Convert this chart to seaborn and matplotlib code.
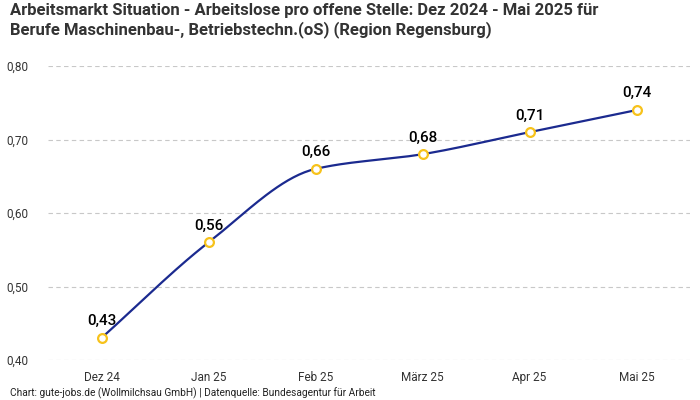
import numpy as np
import pandas as pd
import matplotlib
matplotlib.use("Agg")
import matplotlib.pyplot as plt
import seaborn as sns

# data
months = ["Dez 24", "Jan 25", "Feb 25", "März 25", "Apr 25", "Mai 25"]
values = [0.43, 0.56, 0.66, 0.68, 0.71, 0.74]
y_ticks = [0.40, 0.50, 0.60, 0.70, 0.80]

title = ("Arbeitsmarkt Situation - Arbeitslose pro offene Stelle: Dez 2024 - Mai 2025 für\n"
         "Berufe Maschinenbau-, Betriebstechn.(oS) (Region Regensburg)")
footer = "Chart: gute-jobs.de (Wollmilchsau GmbH) | Datenquelle: Bundesagentur für Arbeit"

sns.set_style("white")
plt.rcParams["font.family"] = ["Roboto", "DejaVu Sans"]


def monotone_curve(x, y, n=40):
    # monotone cubic (Fritsch-Carlson) for the smooth line
    x = np.asarray(x, float)
    y = np.asarray(y, float)
    h = np.diff(x)
    d = np.diff(y) / h
    m = np.zeros_like(y)
    m[0], m[-1] = d[0], d[-1]
    for i in range(1, len(y) - 1):
        if d[i - 1] * d[i] <= 0:
            m[i] = 0
        else:
            w1 = 2 * h[i] + h[i - 1]
            w2 = h[i] + 2 * h[i - 1]
            m[i] = (w1 + w2) / (w1 / d[i - 1] + w2 / d[i])
    xs, ys = [], []
    for i in range(len(x) - 1):
        t = np.linspace(0, 1, n)
        h00 = 2 * t**3 - 3 * t**2 + 1
        h10 = t**3 - 2 * t**2 + t
        h01 = -2 * t**3 + 3 * t**2
        h11 = t**3 - t**2
        xs.append(x[i] + t * h[i])
        ys.append(h00 * y[i] + h10 * h[i] * m[i] + h01 * y[i + 1] + h11 * h[i] * m[i + 1])
    return np.concatenate(xs), np.concatenate(ys)


df = pd.DataFrame({"idx": range(len(months)), "month": months, "value": values})
cx, cy = monotone_curve(df["idx"], df["value"])

fig = plt.figure(figsize=(7, 4), dpi=100)
ax = fig.add_axes([48 / 700, 40 / 400, 642 / 700, 294 / 400])

sns.lineplot(x=cx, y=cy, ax=ax, color="#1b2a8f", linewidth=1.6)
sns.scatterplot(data=df, x="idx", y="value", ax=ax, s=40, color="white",
                edgecolor="#f7c21b", linewidth=1.6, zorder=5)

for _, r in df.iterrows():
    ax.annotate(f"{r['value']:.2f}".replace(".", ","), (r["idx"], r["value"]),
                xytext=(0, 7), textcoords="offset points", ha="center", va="bottom",
                fontsize=11, fontweight="medium", color="#000000")

ax.set_xlim(-0.5, 5.5)
ax.set_ylim(0.4, 0.8)
ax.set_xticks(df["idx"])
ax.set_xticklabels(months)
ax.set_yticks(y_ticks)
ax.set_yticklabels([f"{t:.2f}".replace(".", ",") for t in y_ticks])
ax.yaxis.grid(True, color="#c8c8c8", linestyle=(0, (4, 3)), linewidth=0.8)
ax.xaxis.grid(False)
for s in ax.spines.values():
    s.set_visible(False)
ax.tick_params(axis="both", length=0, labelsize=8.5, colors="#333333")
ax.tick_params(axis="y", pad=14)
ax.tick_params(axis="x", pad=8)
ax.set_xlabel("")
ax.set_ylabel("")

fig.text(10 / 700, 1 - 3 / 400, title, ha="left", va="top", fontsize=12,
         fontweight="bold", color="#333333", linespacing=1.25)
fig.text(10 / 700, 1 - 393 / 400, footer, ha="left", va="center", fontsize=7.3, color="#222222")

fig.savefig("out.png", dpi=100)
